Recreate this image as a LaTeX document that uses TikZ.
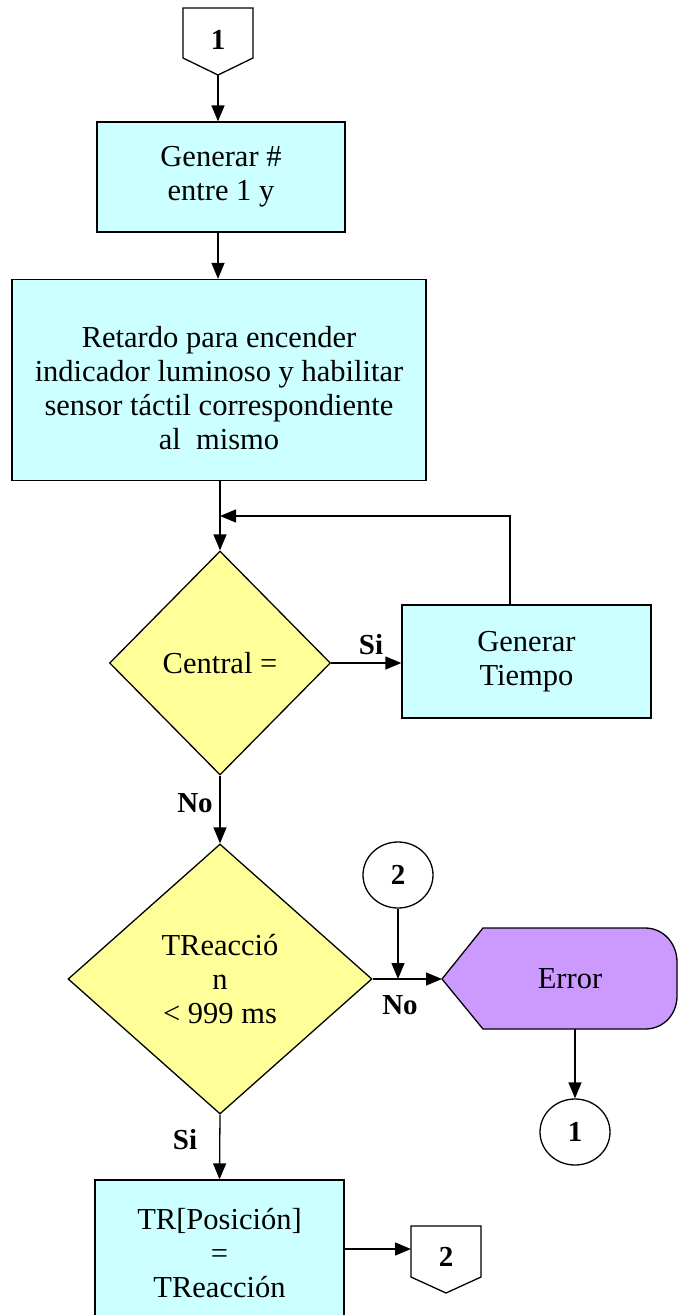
\documentclass[tikz,border=0pt]{standalone}
\usepackage{fontspec}
\setmainfont{Liberation Serif}
\usetikzlibrary{shapes.geometric,arrows.meta}
\definecolor{cyanf}{HTML}{CCFFFF}
\definecolor{yelf}{HTML}{FFFF99}
\definecolor{purf}{HTML}{CC99FF}
\begin{document}
\begin{tikzpicture}[x=1pt,y=-1pt,
  txt/.style={font=\fontsize{30.5}{34}\selectfont, align=center},
  proc/.style={draw, fill=cyanf, line width=1.3pt, inner sep=0pt, txt},
  dec/.style={draw, diamond, fill=yelf, line width=1.3pt, inner sep=0pt, txt},
  lbl/.style={font=\fontsize{29}{32}\selectfont\bfseries},
  arr/.style={-{Triangle[length=16pt,width=13pt]}, line width=1.3pt},
  ln/.style={line width=1.3pt},
  conn/.style={draw, ellipse, fill=white, minimum width=70pt, minimum height=66pt, inner sep=0pt, line width=1.3pt, lbl}]
\useasboundingbox (0,0) rectangle (678,1315);
\clip (0,0) rectangle (678,1315);

% off-page connector 1 (top)
\draw[ln, fill=white] (183,8) -- (253,8) -- (253,58) -- (218,75) -- (183,58) -- cycle;
\node[lbl] (p1) at (218,40) {1};
\coordinate (p1tip) at (218,75);

\node[proc, minimum width=248pt, minimum height=110pt] (b1) at (221,177) {Generar \#\\entre 1 y};
\node[proc, minimum width=414pt, minimum height=201pt] (b2) at (219,380) {\rule{0pt}{37pt}Retardo para encender\\indicador luminoso y habilitar\\sensor táctil correspondiente\\al\ \ mismo};

\node[dec, minimum width=221pt, minimum height=224pt] (d1) at (220,663) {Central =};
\node[proc, minimum width=249pt, minimum height=113pt] (gt) at (526.5,661.5) {Generar\\Tiempo};

\node[dec, minimum width=304pt, minimum height=270pt] (d2) at (220,979) {TReacció\\n\\< 999 ms};

\node[conn] (c2) at (398,875) {2};

% Error terminal shape
\draw[ln, fill=purf] (442,979) -- (483,928) -- (645,928) .. controls (664,928) and (677,944) .. (677,962) -- (677,996) .. controls (677,1014) and (664,1029) .. (645,1029) -- (483,1029) -- cycle;
\coordinate (errL) at (442,979);
\coordinate (errB) at (575,1029);
\node[txt] (err) at (570,979) {Error};

\node[conn] (c1) at (575,1132) {1};

\node[proc, minimum width=249pt, minimum height=147pt] (tr) at (219.5,1253.5) {TR[Posición]\\=\\TReacción};

% off-page connector 2
\draw[ln, fill=white] (411,1226) -- (481,1226) -- (481,1277) -- (446,1293) -- (411,1277) -- cycle;
\node[lbl] (p2) at (446,1257) {2};
\coordinate (p2L) at (411,1249);

% connectors
\draw[arr] (p1tip) -- (b1.north -| p1tip);
\draw[arr] (b1.south -| p1tip) -- (b2.north -| p1tip);
\draw[arr] (b2.south -| d1.north) -- (d1.north);
\coordinate (fbx) at (510,516);
\draw[arr] (gt.north -| fbx) -- (fbx) -- (d1.north |- fbx);
\draw[arr] (d1.east) -- (d1.east -| gt.west);
\node[lbl] (si1) at (371,645) {Si};
\draw[arr] (d1.south) -- (d2.north);
\node[lbl] (no1) at (195,803) {No};
\draw[arr] (d2.east) -- (errL);
\draw[arr] (c2.south) -- (c2.south |- d2.east);
\node[lbl] (no2) at (400,1005) {No};
\draw[arr] (errB) -- (c1.north);
\draw[arr] (d2.south) -- (tr.north);
\node[lbl] (si2) at (185,1140) {Si};
\draw[arr] (p2L -| tr.east) -- (p2L);
\end{tikzpicture}
\end{document}
